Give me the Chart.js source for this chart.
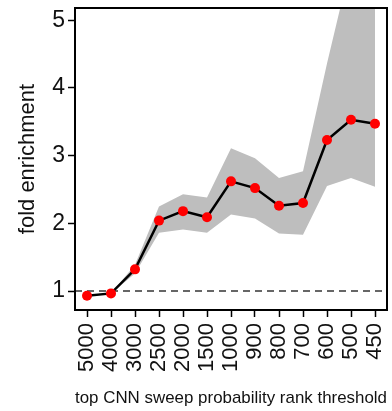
<!DOCTYPE html>
<html>
<head>
<meta charset="utf-8">
<script src="https://cdn.jsdelivr.net/npm/chart.js"></script>
<style>
  html, body { margin: 0; padding: 0; background: #fff; }
  #wrap { width: 392px; height: 411px; }
</style>
</head>
<body>
<div id="wrap"><canvas id="foldChart" width="392" height="411"></canvas></div>
<script>
// datos
const thresholds = ['5000', '4000', '3000', '2500', '2000', '1500', '1000', '900', '800', '700', '600', '500', '450'];
const foldEnrichment = [0.93, 0.965, 1.32, 2.04, 2.18, 2.09, 2.62, 2.52, 2.26, 2.30, 3.23, 3.53, 3.47];
const upperBound = [0.93, 0.965, 1.39, 2.25, 2.43, 2.38, 3.11, 2.96, 2.67, 2.77, 4.36, 5.85, 6.0];
const lowerBound = [0.93, 0.965, 1.26, 1.86, 1.91, 1.86, 2.13, 2.07, 1.85, 1.83, 2.55, 2.67, 2.54];
const yTicks = [1, 2, 3, 4, 5];
const baseline = 1;

const FONT = "'Liberation Sans', Arial, Helvetica, sans-serif";

// linea discontinua en y = 1 y marco del panel
const framePlugin = {
  id: 'frame',
  beforeDatasetsDraw(chart) {
    const { ctx, chartArea, scales } = chart;
    const y = scales.y.getPixelForValue(baseline);
    ctx.save();
    ctx.strokeStyle = '#666';
    ctx.lineWidth = 2;
    ctx.setLineDash([7, 5]);
    ctx.beginPath();
    ctx.moveTo(chartArea.left, y);
    ctx.lineTo(chartArea.right, y);
    ctx.stroke();
    ctx.restore();
  },
  afterDraw(chart) {
    const { ctx, chartArea } = chart;
    ctx.save();
    ctx.strokeStyle = '#000';
    ctx.lineWidth = 2;
    ctx.strokeRect(chartArea.left, chartArea.top, chartArea.right - chartArea.left, chartArea.bottom - chartArea.top);
    ctx.restore();
  }
};

new Chart(document.getElementById('foldChart').getContext('2d'), {
  type: 'line',
  data: {
    labels: thresholds,
    datasets: [
      {
        label: 'fold',
        data: foldEnrichment,
        borderColor: '#000',
        borderWidth: 2.5,
        pointRadius: 5,
        pointBackgroundColor: '#ff0000',
        pointBorderColor: '#ff0000',
        pointBorderWidth: 0,
        tension: 0,
        fill: false,
        order: 0
      },
      {
        label: 'upper',
        data: upperBound,
        borderWidth: 0,
        pointRadius: 0,
        backgroundColor: '#bebebe',
        fill: '+1',
        tension: 0,
        order: 1
      },
      {
        label: 'lower',
        data: lowerBound,
        borderWidth: 0,
        pointRadius: 0,
        fill: false,
        tension: 0,
        order: 2
      }
    ]
  },
  options: {
    responsive: false,
    animation: false,
    layout: { padding: { top: 8, right: 2, left: 0, bottom: 0 } },
    plugins: {
      legend: { display: false },
      tooltip: { enabled: false }
    },
    scales: {
      x: {
        offset: true,
        grid: { drawOnChartArea: false, drawTicks: true, tickLength: 7, tickColor: '#000', tickWidth: 1.5 },
        border: { display: false },
        ticks: {
          autoSkip: false,
          minRotation: 90,
          maxRotation: 90,
          padding: 6,
          color: '#111',
          font: { family: FONT, size: 22 }
        },
        title: {
          display: true,
          text: 'top CNN sweep probability rank threshold',
          color: '#111',
          font: { family: FONT, size: 17 },
          padding: { top: 4, bottom: 2 }
        },
        afterFit(scale) {
          scale.height = 101;
          scale.paddingLeft = 0;
          scale.paddingRight = 0;
        }
      },
      y: {
        min: 0.72,
        max: 5.18,
        grid: { drawOnChartArea: false, drawTicks: true, tickLength: 7, tickColor: '#000', tickWidth: 1.5 },
        border: { display: false },
        afterBuildTicks(scale) { scale.ticks = yTicks.map(v => ({ value: v })); },
        ticks: {
          padding: 3,
          color: '#111',
          font: { family: FONT, size: 23 }
        },
        title: {
          display: true,
          text: 'fold enrichment',
          color: '#111',
          font: { family: FONT, size: 22 },
          padding: { top: 15, bottom: 0 }
        },
        afterFit(scale) {
          scale.width = 75;
          scale.paddingTop = 0;
          scale.paddingBottom = 0;
        }
      }
    }
  },
  plugins: [framePlugin]
});
</script>
</body>
</html>
